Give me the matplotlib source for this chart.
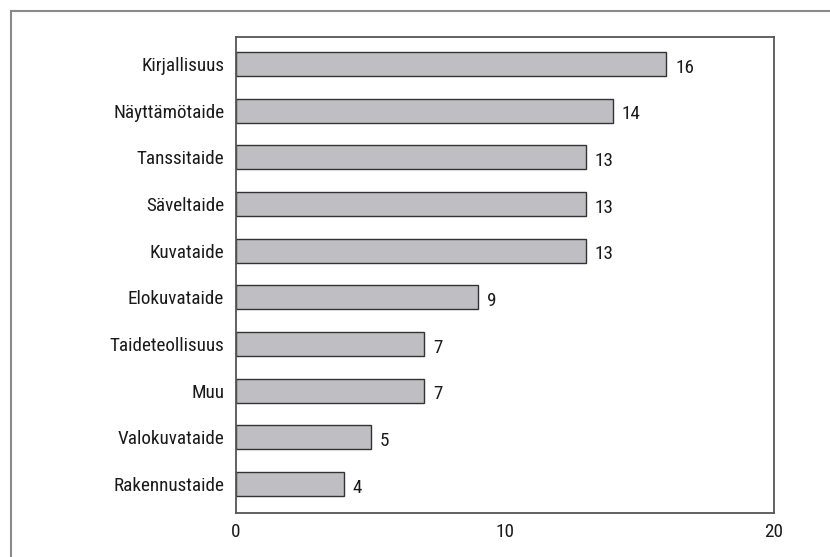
import matplotlib
matplotlib.use("Agg")
import matplotlib.pyplot as plt
from matplotlib.lines import Line2D
import logging
logging.getLogger('matplotlib.font_manager').setLevel(logging.ERROR)

categories = ["Kirjallisuus", "Näyttämötaide", "Tanssitaide", "Säveltaide", "Kuvataide",
              "Elokuvataide", "Taideteollisuus", "Muu", "Valokuvataide", "Rakennustaide"]
values = [16, 14, 13, 13, 13, 9, 7, 7, 5, 4]
xticks = [0, 10, 20]

plt.rcParams['font.family'] = ['Liberation Sans Narrow', 'Roboto Condensed', 'Roboto', 'DejaVu Sans']

W, H = 830, 557
FS = 13.8
fig = plt.figure(figsize=(W / 100, H / 100), dpi=100)
ax = fig.add_axes([236 / W, 1 - 513 / H, (774 - 236) / W, (513 - 37) / H])

n = len(categories)
ypos = [n - 1 - i for i in range(n)]
ax.barh(ypos, values, height=0.51, color="#bfbfc3", edgecolor="#333333", linewidth=1.0)
for y, v in zip(ypos, values):
    ax.text(v + 0.33, y - 0.08, str(v), va="center", ha="left", fontsize=FS, color="#1a1a1a")

ax.set_xlim(0, 20)
ax.set_ylim(-0.62, n - 1 + 0.58)
ax.set_yticks(ypos)
ax.set_yticklabels(categories, fontsize=FS, color="#1a1a1a")
ax.set_xticks(xticks)
ax.set_xticklabels([str(t) for t in xticks], fontsize=FS, color="#1a1a1a")
ax.tick_params(axis="both", length=0)
ax.tick_params(axis="y", pad=8.5)
ax.tick_params(axis="x", pad=7)
for s in ax.spines.values():
    s.set_color("#555555")
    s.set_linewidth(1.3)

# outer frame (top and left edges)
fig.add_artist(Line2D([11 / W, 1.0], [1 - 11 / H, 1 - 11 / H], color="#8a8a8a", linewidth=1.5, transform=fig.transFigure))
fig.add_artist(Line2D([11 / W, 11 / W], [0.0, 1 - 11 / H], color="#8a8a8a", linewidth=1.5, transform=fig.transFigure))

fig.savefig("out.png", dpi=100)
